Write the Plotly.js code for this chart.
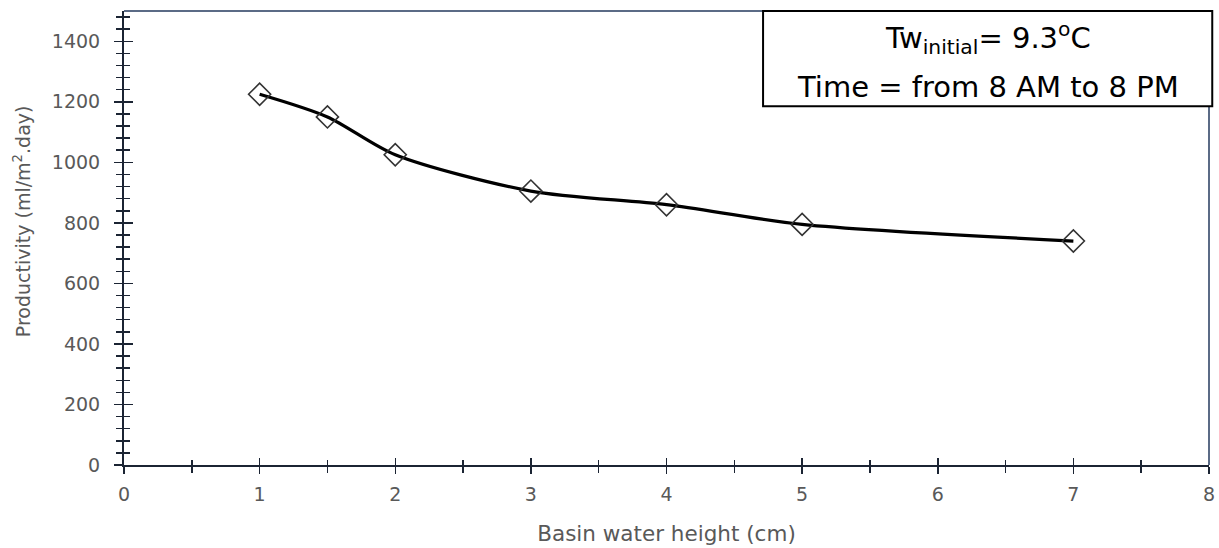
<!DOCTYPE html>
<html>
<head>
<meta charset="utf-8">
<script src="https://cdn.plot.ly/plotly-3.0.1.min.js"></script>
<style>html,body{margin:0;padding:0;background:#fff;}#chart{width:1219px;height:548px;}</style>
</head>
<body>
<div id="chart"></div>
<script>
const waterHeight = [1, 1.5, 2, 3, 4, 5, 7];
const productivity = [1225, 1150, 1025, 905, 860, 795, 740];
const xTickVals = [0, 1, 2, 3, 4, 5, 6, 7, 8];
const yTickVals = [0, 200, 400, 600, 800, 1000, 1200, 1400];
const xTitle = 'Basin water height (cm)';
const yTitle = 'Productivity (ml/m<sup>2</sup>.day)';
const boxLines = ['Tw<sub>initial</sub>= 9.3<sup>o</sup>C', 'Time = from 8 AM to 8 PM'];

const FONT = 'DejaVu Sans, sans-serif';
const AX = '#1b2433';
const BORDER = '#5b6b86';
const GREY = '#595959';

const traces = [
  {
    x: waterHeight, y: productivity, type: 'scatter', mode: 'lines',
    line: {color: '#000', width: 3.2, shape: 'spline', smoothing: 0.8},
    hoverinfo: 'skip', showlegend: false
  },
  {
    x: waterHeight, y: productivity, type: 'scatter', mode: 'markers',
    marker: {symbol: 'diamond-open', size: 17, color: '#333', line: {width: 1.6, color: '#333'}},
    showlegend: false
  },
  {
    x: waterHeight, y: productivity, xaxis: 'x2', yaxis: 'y2', type: 'scatter', mode: 'markers',
    marker: {opacity: 0}, hoverinfo: 'skip', showlegend: false
  }
];

const xBase = {
  range: [0, 8], tickvals: xTickVals, showgrid: false, zeroline: false,
  linecolor: AX, linewidth: 2, tickcolor: AX, tickwidth: 1.5
};
const yBase = {
  range: [0, 1500], tickvals: yTickVals, showgrid: false, zeroline: false,
  linecolor: AX, linewidth: 2, tickcolor: AX, tickwidth: 1.5
};

const layout = {
  width: 1219, height: 548,
  margin: {l: 124, r: 10, t: 11, b: 83},
  paper_bgcolor: '#fff', plot_bgcolor: '#fff',
  font: {family: FONT, color: GREY},
  xaxis: Object.assign({}, xBase, {
    ticks: 'outside', ticklen: 7, ticklabelstandoff: 4,
    minor: {dtick: 0.5, ticks: 'outside', ticklen: 6, tickcolor: AX, tickwidth: 1.5, showgrid: false},
    tickfont: {family: FONT, size: 19, color: GREY},
    title: {text: xTitle, font: {family: FONT, size: 21.5, color: GREY}, standoff: 22}
  }),
  yaxis: Object.assign({}, yBase, {
    ticks: 'outside', ticklen: 8, ticklabelstandoff: 10,
    minor: {dtick: 40, ticks: 'outside', ticklen: 6, tickcolor: AX, tickwidth: 1.5, showgrid: false},
    tickfont: {family: FONT, size: 19, color: GREY}
  }),
  xaxis2: Object.assign({}, xBase, {
    overlaying: 'x', side: 'bottom', anchor: 'y2', ticks: 'inside', ticklen: 7,
    minor: {dtick: 0.5, ticks: 'inside', ticklen: 5, tickcolor: AX, tickwidth: 1.5, showgrid: false},
    showticklabels: false
  }),
  yaxis2: Object.assign({}, yBase, {
    overlaying: 'y', side: 'left', anchor: 'x2', ticks: 'inside', ticklen: 9,
    minor: {dtick: 40, ticks: 'inside', ticklen: 6, tickcolor: AX, tickwidth: 1.5, showgrid: false},
    showticklabels: false
  }),
  shapes: [
    {type: 'line', xref: 'paper', yref: 'paper', x0: 0, x1: 1, y0: 1, y1: 1, line: {color: BORDER, width: 2}},
    {type: 'line', xref: 'paper', yref: 'paper', x0: 1, x1: 1, y0: 0, y1: 1, line: {color: BORDER, width: 2}},
    {type: 'rect', xref: 'paper', yref: 'paper', x0: 0.589, x1: 1.003, y0: 0.79, y1: 1.0,
     line: {color: '#000', width: 2}, fillcolor: '#fff'}
  ],
  annotations: [
    {xref: 'paper', yref: 'paper', x: -0.094, y: 0.537, text: yTitle, showarrow: false, textangle: -90,
     font: {family: FONT, size: 19, color: GREY}, xanchor: 'center', yanchor: 'middle'},
    {xref: 'paper', yref: 'paper', x: 0.796, y: 0.94, text: boxLines[0], showarrow: false,
     font: {family: FONT, size: 29, color: '#000'}, xanchor: 'center', yanchor: 'middle'},
    {xref: 'paper', yref: 'paper', x: 0.796, y: 0.832, text: boxLines[1], showarrow: false,
     font: {family: FONT, size: 29, color: '#000'}, xanchor: 'center', yanchor: 'middle'}
  ]
};

Plotly.newPlot('chart', traces, layout, {displayModeBar: false, staticPlot: true});
</script>
</body>
</html>
